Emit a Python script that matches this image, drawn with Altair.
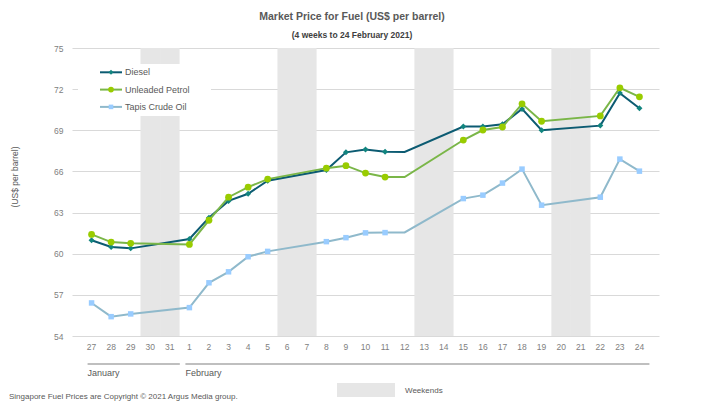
import json
import altair as alt
import pandas as pd

# ---------------- data ----------------
days = ["27", "28", "29", "30", "31"] + [str(d) for d in range(1, 25)]
trade_days = ["27", "28", "29", "1", "2", "3", "4", "5", "8", "9", "10", "11", "12",
              "15", "16", "17", "18", "19", "22", "23", "24"]
diesel = [60.98, 60.49, 60.39, 61.07, 62.63, 63.85, 64.37, 65.32, 66.10, 67.39, 67.59,
          67.44, 67.42, 69.27, 69.27, 69.44, 70.56, 69.00, 69.34, 71.71, 70.61]
petrol = [61.41, 60.85, 60.76, 60.68, 62.44, 64.12, 64.85, 65.44, 66.24, 66.42, 65.88,
          65.59, 65.59, 68.29, 69.02, 69.24, 70.93, 69.66, 70.05, 72.10, 71.44]
tapis = [56.41, 55.41, 55.61, 56.07, 57.88, 58.68, 59.78, 60.17, 60.88, 61.17, 61.52,
         61.54, 61.55, 64.02, 64.27, 65.15, 66.17, 63.54, 64.12, 66.90, 66.02]
no_marker_days = ["12"]
weekend_days = ["30", "31", "6", "7", "13", "14", "20", "21"]
months = ["January", "February"]
month_start = ["27", "1"]
month_end = ["31", "24"]
y_ticks = [54, 57, 60, 63, 66, 69, 72, 75]

series_names = ["Diesel", "Unleaded Petrol", "Tapis Crude Oil"]
series_values = [diesel, petrol, tapis]
line_colors = ["#0c5b72", "#7ab648", "#8fb9cb"]
marker_colors = ["#12857f", "#99cc00", "#99ccff"]
marker_shapes = ["diamond", "circle", "square"]
marker_sizes = [36, 46, 30]

title_text = "Market Price for Fuel  (US$  per barrel)"
subtitle_text = "(4 weeks to 24 February 2021)"
y_title = "(US$ per barrel)"
copyright_text = "Singapore  Fuel Prices are Copyright \u00a9 2021  Argus Media group."
weekend_label = "Weekends"

# ---------------- styling ----------------
W, H = 587, 288
FONT = "Liberation Sans"
GRAY = "#595959"
LGRAY = "#808080"

xscale = alt.Scale(type="band", domain=days, paddingInner=0, paddingOuter=0.5)
yscale = alt.Scale(domain=[54, 75], nice=False, zero=False)
x_axis = alt.Axis(title=None, labelAngle=0, ticks=False, domain=False, labelPadding=6,
                  labelFont=FONT, labelFontSize=8.5, labelColor=LGRAY, grid=False)
y_axis = alt.Axis(title=None, values=y_ticks, ticks=False, domain=False, labelPadding=9,
                  labelFont=FONT, labelFontSize=8.5, labelColor=LGRAY, grid=True,
                  gridColor="#d9d9d9", gridWidth=1)


def xenc(field):
    return alt.X(field, type="nominal", scale=xscale, sort=days, axis=x_axis)


layers = []

# weekend bands
wk = pd.DataFrame({"day": weekend_days})
layers.append(
    alt.Chart(wk).mark_rect(color="#e6e6e6").encode(
        x=xenc("day"),
        y=alt.Y(datum=75, type="quantitative", scale=yscale, axis=y_axis),
        y2=alt.Y2(datum=54),
    )
)

# legend box (white background)
layers.append(
    alt.Chart(alt.Data(values=[{"k": 1}])).mark_rect(color="white").encode(
        x=alt.value(6), x2=alt.value(139), y=alt.value(16), y2=alt.value(68)
    )
)

# series
filt = f"indexof({json.dumps(no_marker_days)}, datum.day) < 0"
for i, name in enumerate(series_names):
    d = pd.DataFrame({"day": trade_days, "price": series_values[i],
                      "order": list(range(len(trade_days)))})
    enc = dict(x=xenc("day"), y=alt.Y("price:Q", scale=yscale, axis=y_axis))
    layers.append(
        alt.Chart(d).mark_line(color=line_colors[i], strokeWidth=2).encode(
            order="order:Q", **enc)
    )
    layers.append(
        alt.Chart(d).transform_filter(filt).mark_point(
            filled=True, shape=marker_shapes[i], size=marker_sizes[i],
            color=marker_colors[i], opacity=1).encode(**enc)
    )

# manual legend entries
for i, name in enumerate(series_names):
    ry = 24.3 + i * 17.3
    ld = alt.Data(values=[{"label": name}])
    layers.append(alt.Chart(ld).mark_rule(color=line_colors[i], strokeWidth=2).encode(
        x=alt.value(28), x2=alt.value(50), y=alt.value(ry)))
    layers.append(alt.Chart(ld).mark_point(
        filled=True, shape=marker_shapes[i], size=marker_sizes[i] * 0.7,
        color=marker_colors[i], opacity=1).encode(x=alt.value(39), y=alt.value(ry)))
    layers.append(alt.Chart(ld).mark_text(
        align="left", baseline="middle", font=FONT, fontSize=9, color=GRAY).encode(
        x=alt.value(53), y=alt.value(ry), text="label:N"))

# month brackets
md = pd.DataFrame({"month": months, "start": month_start, "end": month_end})
layers.append(
    alt.Chart(md).mark_rule(color=LGRAY, strokeWidth=1.2, xOffset=-4, x2Offset=10).encode(
        x=xenc("start"),
        x2="end:N",
        y=alt.value(316),
    )
)
layers.append(
    alt.Chart(md).mark_text(align="left", baseline="middle", dx=-4, font=FONT,
                            fontSize=9, color=GRAY).encode(
        x=xenc("start"),
        y=alt.value(325),
        text="month:N",
    )
)


# titles and notes
def txt(s, x, y, **kw):
    return alt.Chart(alt.Data(values=[{"t": s}])).mark_text(font=FONT, **kw).encode(
        x=alt.value(x), y=alt.value(y), text="t:N")


layers.append(txt(title_text, 280, -31, fontSize=10.5, fontWeight="bold", color=GRAY,
                  align="center", baseline="middle"))
layers.append(txt(subtitle_text, 280, -13, fontSize=8.5, fontWeight="bold", color="#404040",
                  align="center", baseline="middle"))
layers.append(txt(y_title, -57, 129, fontSize=8.5, color=GRAY, angle=270,
                  align="center", baseline="middle"))
layers.append(txt(copyright_text, -63, 349, fontSize=8, color=GRAY,
                  align="left", baseline="middle"))
layers.append(
    alt.Chart(alt.Data(values=[{"t": weekend_label}])).mark_rect(color="#e6e6e6").encode(
        x=alt.value(265), x2=alt.value(323), y=alt.value(335), y2=alt.value(349))
)
layers.append(txt(weekend_label, 333, 343, fontSize=8, color=GRAY,
                  align="left", baseline="middle"))

chart = alt.layer(*layers).properties(
    width=W, height=H,
    autosize=alt.AutoSizeParams(type="none"),
    padding={"left": 64, "top": 40, "right": 30, "bottom": 66},
    background="white",
).configure_view(stroke=None)

chart.save("out.html", embed_options={"renderer": "svg", "actions": False})
